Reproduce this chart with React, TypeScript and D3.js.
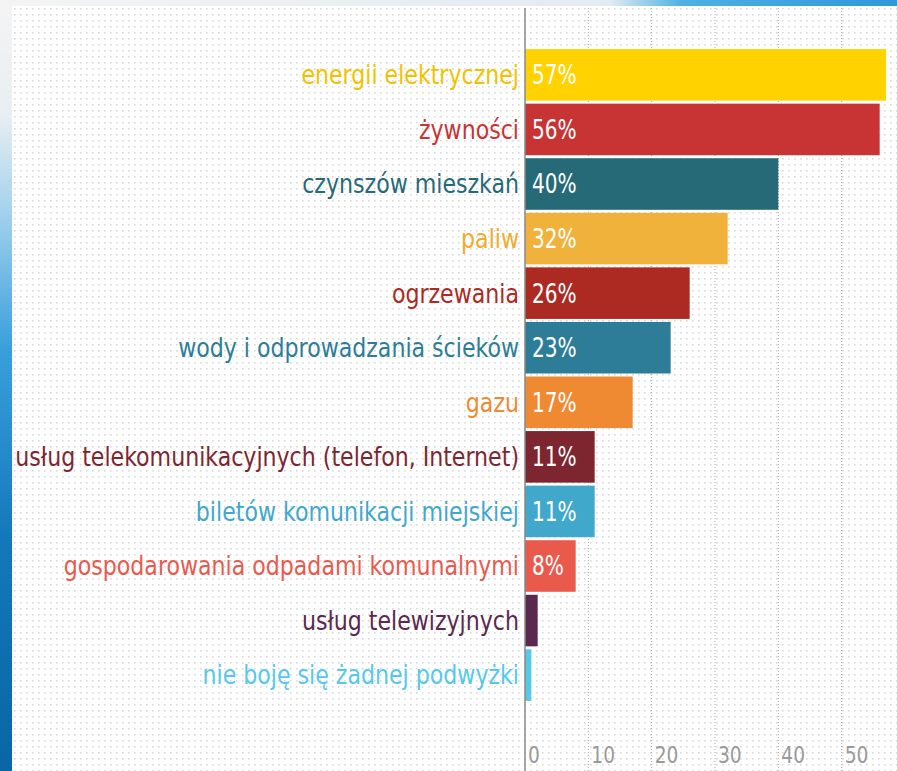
import React from 'react';
import * as d3 from 'd3';

// categories (top to bottom) and share of answers, in %
const categories = [
  'energii elektrycznej',
  'żywności',
  'czynszów mieszkań',
  'paliw',
  'ogrzewania',
  'wody i odprowadzania ścieków',
  'gazu',
  'usług telekomunikacyjnych (telefon, Internet)',
  'biletów komunikacji miejskiej',
  'gospodarowania odpadami komunalnymi',
  'usług telewizyjnych',
  'nie boję się żadnej podwyżki',
];
const values = [57, 56, 40, 32, 26, 23, 17, 11, 11, 8, 2, 1];
const valueLabels = ['57%', '56%', '40%', '32%', '26%', '23%', '17%', '11%', '11%', '8%', '', ''];
const barColors = [
  '#ffd200', '#c83434', '#266a77', '#f0b23a', '#ad2a22', '#2d7d98',
  '#f08a32', '#7e2630', '#3fa8cb', '#ea5a4c', '#5b2850', '#56c9ea',
];
const labelColors = [
  '#f2c200', '#c83434', '#266a77', '#f0ac2a', '#ad2a22', '#2d7d98',
  '#f08a32', '#7e2630', '#3fa8cb', '#ea5a4c', '#5b2850', '#56c9ea',
];
const ticks = [0, 10, 20, 30, 40, 50];

const W = 897;
const H = 771;
const FONT = "'Ubuntu Condensed', 'DejaVu Sans Condensed', 'Liberation Sans Narrow', sans-serif";

export default function App() {
  const x = d3.scaleLinear().domain([0, 57]).range([525, 886]);
  const y = d3.scaleBand<string>().domain(categories).range([48, 702]).paddingInner(0.055).paddingOuter(0.02);
  const mid = (c: string) => (y(c) as number) + y.bandwidth() / 2;

  return (
    <div style={{ position: 'absolute', left: 0, top: 0 }}>
      <svg width={W} height={H} style={{ display: 'block' }} fontFamily={FONT}>
        <defs>
          <linearGradient id="side" x1="0" y1="0" x2="0" y2="1">
            <stop offset="0" stopColor="#f4f4f4" />
            <stop offset="0.15" stopColor="#e8eef2" />
            <stop offset="0.27" stopColor="#a6d3ee" />
            <stop offset="0.45" stopColor="#3aa0dc" />
            <stop offset="0.7" stopColor="#1378bb" />
            <stop offset="1" stopColor="#0866a4" />
          </linearGradient>
          <linearGradient id="topband" x1="0" y1="0" x2="1" y2="0">
            <stop offset="0" stopColor="#f4f4f4" />
            <stop offset="0.68" stopColor="#e2ebf1" />
            <stop offset="0.76" stopColor="#4fb0e4" />
            <stop offset="1" stopColor="#2f98da" />
          </linearGradient>
          <pattern id="dots" x="12" y="6" width="6" height="6" patternUnits="userSpaceOnUse">
            <rect x="2" y="2" width="1.6" height="1.6" fill="#d9d9d9" />
          </pattern>
        </defs>

        <rect x={0} y={0} width={W} height={H} fill="url(#side)" />
        <rect x={0} y={0} width={W} height={7} fill="url(#topband)" />
        <rect x={12} y={6} width={W - 12} height={H - 6} fill="#ffffff" />
        <rect x={12} y={6} width={W - 12} height={H - 6} fill="url(#dots)" />

        {ticks.filter(t => t > 0).map(t => (
          <line key={t} x1={x(t)} x2={x(t)} y1={8} y2={H} stroke="#a8a8a8" strokeWidth={1} strokeDasharray="1 2" />
        ))}

        {categories.map((c, i) => (
          <g key={c}>
            <rect x={x(0)} y={y(c)} width={x(values[i]) - x(0)} height={y.bandwidth()} fill={barColors[i]} />
            <text transform={`translate(${x(0) - 6},${mid(c)}) scale(0.945,1)`} dy="0.36em" textAnchor="end"
              fontSize={26} fill={labelColors[i]}>{c}</text>
            {valueLabels[i] && (
              <text transform={`translate(${x(0) + 7},${mid(c)}) scale(0.86,1)`} dy="0.36em" fontSize={26} fill="#ffffff">{valueLabels[i]}</text>
            )}
          </g>
        ))}

        <line x1={x(0)} x2={x(0)} y1={8} y2={H} stroke="#8a8a8a" strokeWidth={1.5} />

        {ticks.map(t => (
          <text key={t} transform={`translate(${x(t) + 3},763) scale(0.9,1)`} fontSize={23} fill="#9a9a9a">{t}</text>
        ))}
      </svg>
    </div>
  );
}
